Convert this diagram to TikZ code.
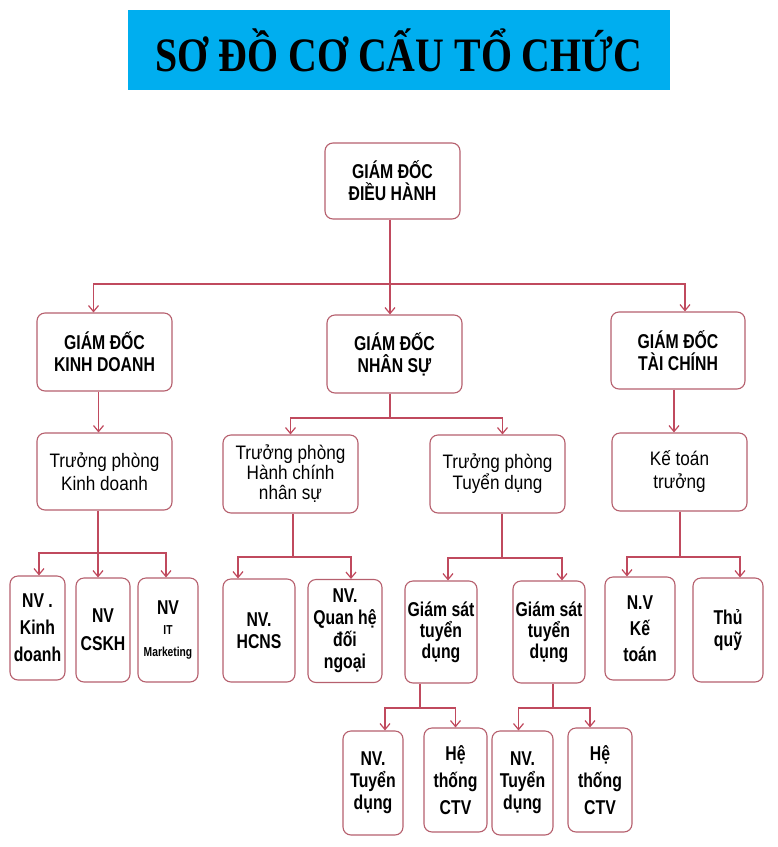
\documentclass[tikz,border=0pt]{standalone}
\usepackage{fontspec}
\usepackage{tikz}
\usetikzlibrary{arrows.meta,calc}
\newfontfamily\titlefont[FakeStretch=0.83]{Liberation Serif}
\newfontfamily\boxfont[FakeStretch=0.88]{Liberation Sans}
\newfontfamily\boldfont[FakeStretch=0.79]{Liberation Sans}
\definecolor{titleblue}{RGB}{0,174,239}
\definecolor{linkred}{RGB}{192,74,94}
\definecolor{boxred}{RGB}{182,96,110}

\begin{document}
\begin{tikzpicture}[x=1pt,y=-1pt]
			\tikzstyle{box}=[draw=boxred, line width=1.1pt, rounded corners=8pt, fill=white, inner sep=0pt, align=center]
			\tikzstyle{top}=[box, minimum width=135pt, minimum height=77pt, font=\boldfont\bfseries\fontsize{20}{22}\selectfont]
			\tikzstyle{mid}=[box, minimum width=135pt, minimum height=78pt, font=\boxfont\fontsize{19.5}{23}\selectfont]
			\tikzstyle{low}=[box, minimum height=104pt, font=\boldfont\bfseries\fontsize{20}{22}\selectfont]
			\tikzstyle{link}=[draw=linkred, line width=1.2pt]
			\tikzstyle{arr}=[link, -{Straight Barb[length=6pt,width=10pt]}]

			\useasboundingbox (0,0) rectangle (778,847);

			\node (title) [fill=titleblue, minimum width=542pt, minimum height=80pt, inner sep=0pt, font=\titlefont\bfseries\fontsize{48}{50}\selectfont] at (399,50) {SƠ ĐỒ CƠ CẤU TỔ CHỨC};

			\node (gddh) [top, minimum height=76pt] at (392.5,181) {GIÁM ĐỐC\\ĐIỀU HÀNH};

			\node (gdkd) [top, minimum height=78pt] at (104.5,352) {GIÁM ĐỐC\\KINH DOANH};
			\node (gdns) [top, minimum height=78pt] at (394.5,354) {GIÁM ĐỐC\\NHÂN SỰ};
			\node (gdtc) [top, minimum width=134pt] at (678,350.5) {GIÁM ĐỐC\\TÀI CHÍNH};

			\node (tpkd) [mid, minimum height=77pt] at (104.5,471.5) {Trưởng phòng\\Kinh doanh};
			\node (tphc) [mid, font=\boxfont\fontsize{19.5}{20}\selectfont] at (290.5,474) {Trưởng phòng\\Hành chính\\nhân sự};
			\node (tptd) [mid, font=\boxfont\fontsize{19.5}{17}\selectfont] at (497.5,474) {Trưởng phòng\\Tuyển dụng};
			\node (ktt) [mid] at (679.5,472) {Kế toán\\trưởng};

			\node (nvkd) [low, minimum width=55pt, font=\boldfont\bfseries\fontsize{20}{27}\selectfont] at (37.5,628) {NV .\\Kinh\\doanh};
			\node (cskh) [low, minimum width=54pt, font=\boldfont\bfseries\fontsize{20}{28}\selectfont] at (103,630) {NV\\CSKH};
			\node (itmk) [low, minimum width=60pt] at (168,630) {NV\\[-2pt]{\fontsize{13}{15}\selectfont IT}\\{\fontsize{13}{15}\selectfont Marketing}};
			\node (hcns) [low, minimum width=72pt, minimum height=103pt] at (259,630.5) {NV.\\HCNS};
			\node (qhdn) [low, minimum width=74pt, minimum height=103pt] at (345,631) {NV.\\Quan hệ\\đối\\ngoại};
			\node (gs1) [low, minimum width=72pt, minimum height=102pt, font=\boldfont\bfseries\fontsize{20}{21}\selectfont] at (441,632) {Giám sát\\tuyển\\dụng};
			\node (gs2) [low, minimum width=72pt, minimum height=102pt, font=\boldfont\bfseries\fontsize{20}{21}\selectfont] at (549,632) {Giám sát\\tuyển\\dụng};
			\node (nvkt) [low, minimum width=70pt, minimum height=103pt, font=\boldfont\bfseries\fontsize{20}{26}\selectfont] at (640,628.5) {N.V\\Kế\\toán};
			\node (tq) [low, minimum width=70pt] at (728,630) {Thủ\\quỹ};

			\node (nvtd1) [low, minimum width=60pt] at (373,783) {NV.\\Tuyển\\dụng};
			\node (ctv1) [low, minimum width=63pt, font=\boldfont\bfseries\fontsize{20}{27}\selectfont] at (455.5,780) {Hệ\\thống\\CTV};
			\node (nvtd2) [low, minimum width=61pt] at (522.5,783) {NV.\\Tuyển\\dụng};
			\node (ctv2) [low, minimum width=64pt, font=\boldfont\bfseries\fontsize{20}{27}\selectfont] at (600,780) {Hệ\\thống\\CTV};

			% split points
			\coordinate (b1) at (390,284);
			\coordinate (b2) at (390,418);
			\coordinate (b3) at (98,553);
			\coordinate (b4) at (293,557);
			\coordinate (b5) at (502,558);
			\coordinate (b6) at (680,557);
			\coordinate (b7) at (420,708);
			\coordinate (b8) at (553,708);

			\draw [link] (gddh.south -| b1) -- (b1);
			\draw [arr] (b1) -| ([xshift=-11pt]gdkd.north);
			\draw [arr] (b1) -- (gdns.north -| b1);
			\draw [arr] (b1) -| ([xshift=7pt]gdtc.north);

			\draw [arr] ([xshift=-6pt]gdkd.south) -- ([xshift=-6pt]tpkd.north);
			\draw [arr] ([xshift=-4pt]gdtc.south) -- ([xshift=-4pt]gdtc.south |- ktt.north);

			\draw [link] (gdns.south -| b2) -- (b2);
			\draw [arr] (b2) -| (tphc.north);
			\draw [arr] (b2) -| ([xshift=5pt]tptd.north);

			\draw [link] (tpkd.south -| b3) -- (b3);
			\draw [arr] (b3) -| ([xshift=1.5pt]nvkd.north);
			\draw [arr] (b3) -- (cskh.north -| b3);
			\draw [arr] (b3) -| ([xshift=-2pt]itmk.north);

			\draw [link] (tphc.south -| b4) -- (b4);
			\draw [arr] (b4) -| ([xshift=-21pt]hcns.north);
			\draw [arr] (b4) -| ([xshift=6pt]qhdn.north);

			\draw [link] (tptd.south -| b5) -- (b5);
			\draw [arr] (b5) -| ([xshift=7pt]gs1.north);
			\draw [arr] (b5) -| ([xshift=13pt]gs2.north);

			\draw [link] (ktt.south -| b6) -- (b6);
			\draw [arr] (b6) -| ([xshift=-13pt]nvkt.north);
			\draw [arr] (b6) -| ([xshift=12pt]tq.north);

			\draw [link] (gs1.south -| b7) -- (b7);
			\draw [arr] (b7) -| ([xshift=12pt]nvtd1.north);
			\draw [arr] (b7) -| (ctv1.north);

			\draw [link] (gs2.south -| b8) -- (b8);
			\draw [arr] (b8) -| ([xshift=-4pt]nvtd2.north);
			\draw [arr] (b8) -| ([xshift=-10pt]ctv2.north);
		\end{tikzpicture}
\end{document}
